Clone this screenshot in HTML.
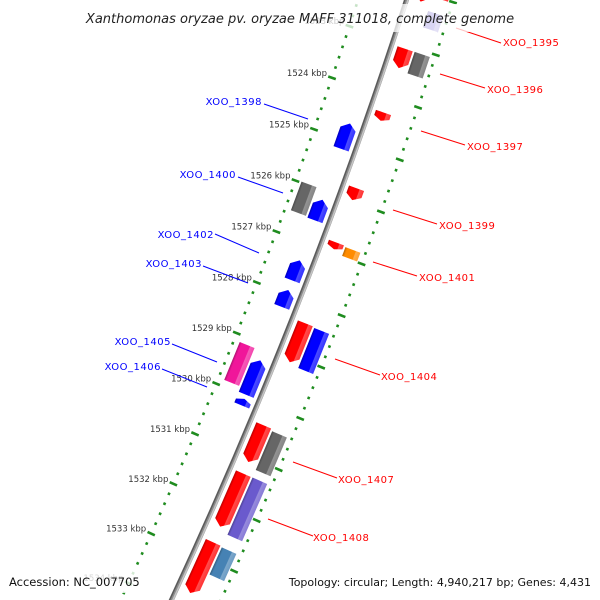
<!DOCTYPE html>
<html><head><meta charset="utf-8">
<style>
html,body{margin:0;padding:0;background:#fff;width:600px;height:600px;overflow:hidden;}
svg{display:block;overflow:hidden;font-family:"DejaVu Sans","Liberation Sans",sans-serif;}
</style></head>
<body>
<svg id="map" width="600" height="600" viewBox="0 0 600 600" xmlns="http://www.w3.org/2000/svg">
<defs id="defs"></defs>
<g id="rulers"></g>
<g id="backbone"></g>
<g id="features"></g>
<g id="labels"></g>
<rect x="68" y="4" width="462" height="28" fill="#fff" fill-opacity="0.75"/>
<text x="300" y="23" text-anchor="middle" font-size="13" font-style="italic" fill="#222">Xanthomonas oryzae pv. oryzae MAFF 311018, complete genome</text>
<rect x="4" y="568" width="142" height="25" fill="#fff" fill-opacity="0.8"/>
<rect x="256" y="568" width="340" height="25" fill="#fff" fill-opacity="0.8"/>
<text x="9" y="586" font-size="11.5" fill="#111">Accession: NC_007705</text>
<text x="591" y="586" text-anchor="end" font-size="11" fill="#111">Topology: circular; Length: 4,940,217 bp; Genes: 4,431</text>
</svg>
<script>
// ---- data ----
const featStart  = [1521.6,1523.07,1524.29,1525.75,1526.80,1528.37,1530.37,1531.32,1532.68, 1521.5,1522.29,1523.07,1526.82,1528.39,1530.41,1531.32,1532.70, 1524.68,1526.16,1527.34,1527.92,1529.30,1530.06, 1525.98,1529.13];
const featEnd    = [1522.17,1523.44,1524.45,1525.98,1526.93,1529.13,1531.09,1532.37,1533.69, 1522.02,1522.60,1523.48,1526.99,1529.17,1531.17,1532.45,1533.24, 1525.17,1526.56,1527.73,1528.25,1529.98,1530.19, 1526.54,1529.88];
const featTrack  = [1,1,1,1,1,1,1,1,1, 2,2,2,2,2,2,2,2, -1,-1,-1,-1,-1,-1, -2,-2];
const featStrand = [1,1,1,1,1,1,1,1,1, 0,0,0,0,0,0,0,0, -1,-1,-1,-1,-1,-1, 0,0];
const featColor  = ["#ff0000","#ff0000","#ff0000","#ff0000","#ff0000","#ff0000","#ff0000","#ff0000","#ff0000",
                    "#ff0000","#6a5acd","#666666","#ff8c00","#0000ff","#666666","#6a5acd","#4682b4",
                    "#0000ff","#0000ff","#0000ff","#0000ff","#0000ff","#0000ff",
                    "#666666","#f0169a"];
const tickKbp = [1521,1522,1523,1524,1525,1526,1527,1528,1529,1530,1531,1532,1533,1534,1535];
const labelNames = ["XOO_1395","XOO_1396","XOO_1397","XOO_1399","XOO_1401","XOO_1404","XOO_1407","XOO_1408",
                    "XOO_1398","XOO_1400","XOO_1402","XOO_1403","XOO_1405","XOO_1406"];
const labelSide  = [1,1,1,1,1,1,1,1,-1,-1,-1,-1,-1,-1];
const labelX = [503,487,467,439,419,381,338,313, 262,236,214,202,171,161];
const labelY = [46,93,150,229,281,380,483,541, 105,178,238,267,345,370];
const lineX1 = [456,440,421,393,373,335,293,268, 308,283,259,248,217,207];
const lineY1 = [28,74,131,210,262,359,462,519, 119,193,253,283,362,387];
const lineX2 = [501,485,465,437,417,380,337,313, 264,238,215,203,172,162];
const lineY2 = [43,88,145,224,276,375,478,536, 104,177,234,266,344,369];

// ---- geometry ----
const CX=-4648, CY=-1634, RB=5312, A0=18.97, DA=0.593, K0=1524;
const R_IN=5266, R_OUT=5357, W=16;
const NS="http://www.w3.org/2000/svg";
function ang(k){return A0+(k-K0)*DA;}
function pt(k,r){const a=ang(k)*Math.PI/180;return [CX+r*Math.cos(a),CY+r*Math.sin(a)];}
function mk(tag,attrs,parent){const e=document.createElementNS(NS,tag);for(const k in attrs)e.setAttribute(k,attrs[k]);parent.appendChild(e);return e;}
function shade(hex,f){const n=parseInt(hex.slice(1),16);let r=n>>16,g=(n>>8)&255,b=n&255;
  if(f<1){r*=f;g*=f;b*=f;}else{const t=f-1;r+= (255-r)*t;g+=(255-g)*t;b+=(255-b)*t;}
  return "rgb("+Math.round(r)+","+Math.round(g)+","+Math.round(b)+")";}
const trackR={"1":RB+14,"2":RB+32,"-1":RB-14,"-2":RB-32};

// rulers
const rul=document.getElementById('rulers');
for(let i=15210;i<=15350;i+=2){
  const k=i/10, major=(i%10===0);
  [R_IN,R_OUT].forEach(function(r){
    const h=major?4:1.3;
    const a=pt(k,r-h), b=pt(k,r+h);
    const l=mk('line',{x1:a[0],y1:a[1],x2:b[0],y2:b[1],stroke:"#1f8c1f","stroke-width":2.6},rul);
    
    
  });
}
tickKbp.forEach(function(k){
  const p=pt(k,R_IN);
  const t=mk('text',{x:p[0]-5,y:p[1]-2,"text-anchor":"end","font-size":"8.5",fill:"#333"},rul);
  t.textContent=k+" kbp";
  
  
});

// backbone
const bb=document.getElementById('backbone');
function arc(r,stroke,w){const a=pt(1520.5,r),b=pt(1535.5,r);
  const p=mk('path',{d:"M"+a[0]+" "+a[1]+" A"+r+" "+r+" 0 0 1 "+b[0]+" "+b[1],fill:"none",stroke:stroke,"stroke-width":w},bb);
  
  }
arc(RB,"#8a8a8a",5);
arc(RB-1.6,"#5a5a5a",1.4);
arc(RB+1.4,"#c4c4c4",1.6);

// features
const defs=document.getElementById('defs'), fg=document.getElementById('features');
const gradIds={};
function grad(c){if(gradIds[c])return gradIds[c];const id="g"+Object.keys(gradIds).length;
  const g=mk('linearGradient',{id:id,x1:"0",y1:"0",x2:"1",y2:"0"},defs);
  mk('stop',{offset:"0",'stop-color':shade(c,0.72)},g);
  mk('stop',{offset:"0.15",'stop-color':c},g);
  mk('stop',{offset:"0.68",'stop-color':c},g);
  mk('stop',{offset:"0.72",'stop-color':shade(c,1.3)},g);
  mk('stop',{offset:"1",'stop-color':shade(c,1.2)},g);
  gradIds[c]=id;return id;}
for(let i=0;i<featStart.length;i++){
  const r=trackR[String(featTrack[i])];
  const km=(featStart[i]+featEnd[i])/2, c=pt(km,r);
  const L=r*(featEnd[i]-featStart[i])*DA*Math.PI/180;
  const h=L/2, w=W/2, d=Math.min(6,L*0.4);
  let pts;
  if(featStrand[i]===1) pts=[[-w,-h],[w,-h],[w,h-d],[0,h],[-w,h-d]];
  else if(featStrand[i]===-1) pts=[[-w,-h+d],[0,-h],[w,-h+d],[w,h],[-w,h]];
  else pts=[[-w,-h],[w,-h],[w,h],[-w,h]];
  const g=mk('g',{transform:"translate("+c[0]+","+c[1]+") rotate("+ang(km)+")"},fg);
  
  
  const poly=mk('polygon',{points:pts.map(p=>p.join(",")).join(" "),fill:"url(#"+grad(featColor[i])+")"},g);
  
  
}

// gene labels
const lg=document.getElementById('labels');
for(let i=0;i<labelNames.length;i++){
  const col=labelSide[i]>0?"#ff0000":"#0000ff";
  const ln=mk('line',{x1:lineX1[i],y1:lineY1[i],x2:lineX2[i],y2:lineY2[i],stroke:col,"stroke-width":1},lg);
  
  
  const t=mk('text',{x:labelX[i],y:labelY[i],"font-size":"10","letter-spacing":"0.5",fill:col,"text-anchor":labelSide[i]>0?"start":"end"},lg);
  t.textContent=labelNames[i];
  
  
}
</script>
</body></html>
